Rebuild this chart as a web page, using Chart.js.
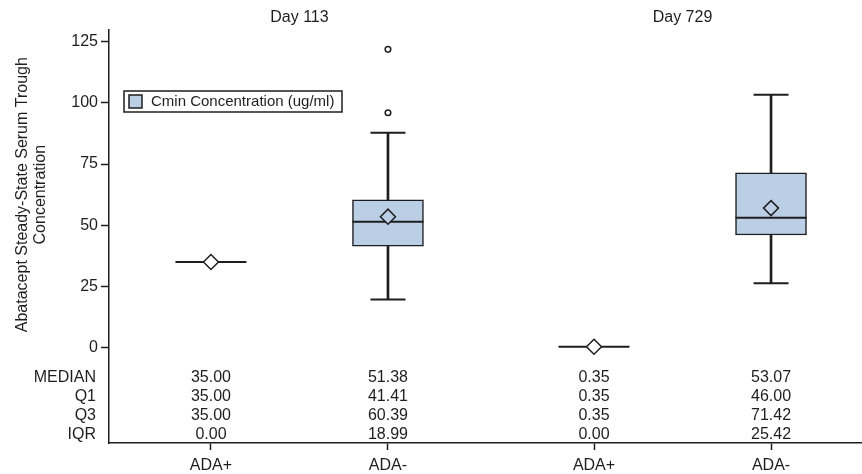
<!DOCTYPE html>
<html>
<head>
<meta charset="utf-8">
<script src="https://cdn.jsdelivr.net/npm/chart.js@4.4.1/dist/chart.umd.min.js"></script>
<style>
  html, body { margin: 0; padding: 0; background: #fff; }
  #wrap { width: 862px; height: 474px; position: relative; }
</style>
</head>
<body>
<div id="wrap"><canvas id="boxChart"></canvas></div>
<script>
// Box plot data
const categories = ['ADA+', 'ADA-', 'ADA+', 'ADA-'];
const groups = ['Day 113', 'Day 729'];
const xPositions = [1, 2, 3.164, 4.164];
const q1 = [35.00, 41.41, 0.35, 46.00];
const median = [35.00, 51.38, 0.35, 53.07];
const q3 = [35.00, 60.39, 0.35, 71.42];
const iqr = [0.00, 18.99, 0.00, 25.42];
const mean = [35.0, 53.5, 0.35, 57.0];
const whiskerLow = [35.0, 19.7, 0.35, 26.3];
const whiskerHigh = [35.0, 87.8, 0.35, 103.3];
const outlierIndex = [1, 1];
const outlierValues = [96.0, 121.9];
const statLabels = ['MEDIAN', 'Q1', 'Q3', 'IQR'];
const yTicks = [0, 25, 50, 75, 100, 125];

const ink = '#1e1e1e';
const boxFill = '#bacfe6';
const fontFamily = '"Liberation Sans", Arial, sans-serif';

Chart.defaults.font.family = fontFamily;
Chart.defaults.font.size = 16;
Chart.defaults.color = ink;

const hasWhisker = xPositions.map((x, i) => whiskerLow[i] !== whiskerHigh[i]);

// Extra drawing: group labels, axis title, legend, stats table
const extras = {
  id: 'extras',
  afterDraw(chart) {
    const ctx = chart.ctx;
    const xs = chart.scales.x;
    const ys = chart.scales.y;
    ctx.save();
    ctx.fillStyle = ink;
    ctx.font = '16px ' + fontFamily;

    // group headers
    ctx.textAlign = 'center';
    ctx.textBaseline = 'middle';
    groups.forEach((g, gi) => {
      const mid = (xPositions[gi * 2] + xPositions[gi * 2 + 1]) / 2;
      ctx.fillText(g, xs.getPixelForValue(mid), 18);
    });

    // y axis title, two lines, centred on the tick range
    const cy = (ys.getPixelForValue(yTicks[0]) + ys.getPixelForValue(yTicks[yTicks.length - 1])) / 2;
    ctx.save();
    ctx.translate(23, cy);
    ctx.rotate(-Math.PI / 2);
    ctx.fillText('Abatacept Steady-State Serum Trough', 0, 0);
    ctx.fillText('Concentration', 0, 18);
    ctx.restore();

    // legend
    ctx.lineWidth = 1.5;
    ctx.strokeStyle = ink;
    ctx.strokeRect(124, 91, 218, 21);
    ctx.fillStyle = boxFill;
    ctx.fillRect(129, 95, 13, 13);
    ctx.strokeRect(129, 95, 13, 13);
    ctx.fillStyle = ink;
    ctx.textAlign = 'left';
    ctx.font = '15px ' + fontFamily;
    ctx.fillText('Cmin Concentration (ug/ml)', 151, 102);

    // statistics table
    ctx.font = '16px ' + fontFamily;
    const zeroY = ys.getPixelForValue(0);
    const rows = [median, q1, q3, iqr];
    rows.forEach((vals, r) => {
      const y = zeroY + 30 + r * 19;
      ctx.textAlign = 'right';
      ctx.fillText(statLabels[r], 96, y);
      ctx.textAlign = 'center';
      vals.forEach((v, i) => {
        ctx.fillText(v.toFixed(2), xs.getPixelForValue(xPositions[i]), y);
      });
    });
    ctx.restore();
  }
};

new Chart(document.getElementById('boxChart'), {
  type: 'bar',
  data: {
    datasets: [
      {
        label: 'Box',
        type: 'bar',
        data: xPositions.map((x, i) => ({ x: x, y: [q1[i], q3[i]] })),
        backgroundColor: boxFill,
        borderColor: ink,
        borderWidth: 1.5,
        borderSkipped: false,
        barThickness: 71,
        grouped: false,
        order: 3
      },
      {
        label: 'Lower whisker',
        type: 'bar',
        data: xPositions.map((x, i) => ({ x: x, y: [whiskerLow[i], q1[i]] })).filter((d, i) => hasWhisker[i]),
        backgroundColor: ink,
        borderWidth: 0,
        barThickness: 2,
        grouped: false,
        order: 4
      },
      {
        label: 'Upper whisker',
        type: 'bar',
        data: xPositions.map((x, i) => ({ x: x, y: [q3[i], whiskerHigh[i]] })).filter((d, i) => hasWhisker[i]),
        backgroundColor: ink,
        borderWidth: 0,
        barThickness: 2,
        grouped: false,
        order: 4
      },
      {
        label: 'Caps',
        type: 'line',
        showLine: false,
        data: xPositions.flatMap((x, i) => hasWhisker[i] ? [{ x: x, y: whiskerLow[i] }, { x: x, y: whiskerHigh[i] }] : []),
        pointStyle: 'line',
        pointRadius: 17.5,
        borderColor: ink,
        borderWidth: 2,
        order: 4
      },
      {
        label: 'Median',
        type: 'line',
        showLine: false,
        data: xPositions.map((x, i) => ({ x: x, y: median[i] })),
        pointStyle: 'line',
        pointRadius: 35.5,
        borderColor: ink,
        borderWidth: 2,
        order: 1
      },
      {
        label: 'Mean',
        type: 'line',
        showLine: false,
        data: xPositions.map((x, i) => ({ x: x, y: mean[i] })),
        pointStyle: 'rectRot',
        pointRadius: 7.5,
        backgroundColor: xPositions.map((x, i) => hasWhisker[i] ? boxFill : '#ffffff'),
        borderColor: ink,
        borderWidth: 1.5,
        order: 0
      },
      {
        label: 'Outliers',
        type: 'line',
        showLine: false,
        data: outlierValues.map((v, k) => ({ x: xPositions[outlierIndex[k]], y: v })),
        pointStyle: 'circle',
        pointRadius: 2.8,
        backgroundColor: '#ffffff',
        borderColor: ink,
        borderWidth: 1.5,
        order: 0
      }
    ]
  },
  options: {
    responsive: true,
    maintainAspectRatio: false,
    animation: false,
    events: [],
    layout: { autoPadding: false, padding: { top: 30, left: 0, right: 0, bottom: 0 } },
    plugins: {
      legend: { display: false },
      tooltip: { enabled: false }
    },
    scales: {
      x: {
        type: 'linear',
        offset: false,
        min: 0.424,
        max: 4.678,
        afterBuildTicks: scale => { scale.ticks = xPositions.map(v => ({ value: v })); },
        afterFit: scale => { scale.height = 31; scale.paddingLeft = 0; scale.paddingRight = 0; },
        ticks: {
          autoSkip: false,
          maxRotation: 0,
          padding: 6,
          color: ink,
          callback: (v, i) => categories[i]
        },
        grid: { offset: false, drawOnChartArea: false, drawTicks: true, tickLength: 7, tickColor: ink, tickWidth: 1.5 },
        border: { display: true, color: ink, width: 1.5 }
      },
      y: {
        type: 'linear',
        min: -39,
        max: 129.8,
        afterBuildTicks: scale => { scale.ticks = yTicks.map(v => ({ value: v })); },
        afterFit: scale => { scale.width = 109; },
        ticks: { padding: 3, color: ink },
        grid: { drawOnChartArea: false, drawTicks: true, tickLength: 8, tickColor: ink, tickWidth: 1.5 },
        border: { display: true, color: ink, width: 1.5 }
      }
    }
  },
  plugins: [extras]
});
</script>
</body>
</html>
